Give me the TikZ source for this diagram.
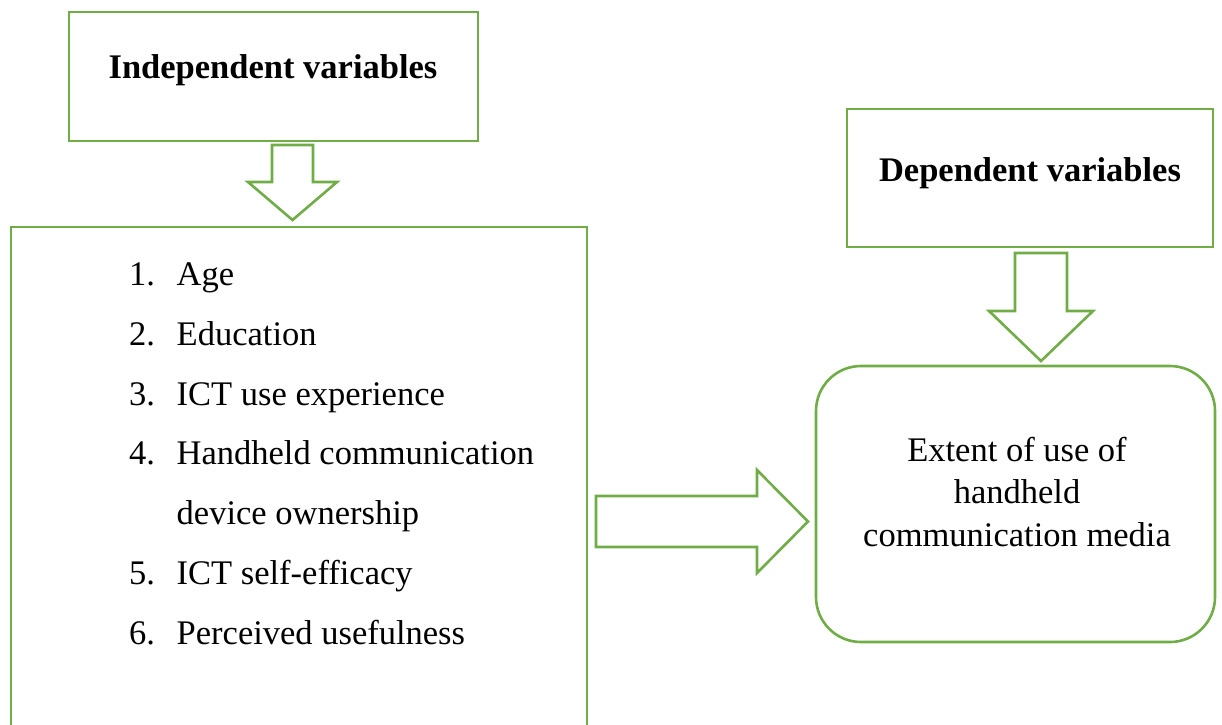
\documentclass[tikz,border=0pt]{standalone}
\usepackage{fontspec}
\setmainfont{Liberation Serif}
\definecolor{og}{HTML}{70AD47}
\begin{document}
\begin{tikzpicture}[x=1pt,y=-1pt,
  box/.style={draw=og,line width=2.6pt,inner sep=0pt,fill=white},
  blockarrow/.style={draw=og,line width=2.6pt,line join=miter,fill=white},
  txt/.style={inner sep=0pt,font=\fontsize{34.5}{40}\selectfont},
  item/.style={txt,anchor=base west},
  ctr/.style={txt,anchor=base}]
\useasboundingbox (0,0) rectangle (1222,724);
\clip (0,0) rectangle (1222,724);
% boxes
\node[box,minimum width=409pt,minimum height=129pt] (indep) at (273.5,76.5) {};
\node[box,minimum width=576pt,minimum height=533pt] (list) at (299,493.5) {};
\node[box,minimum width=366pt,minimum height=138pt] (dep) at (1030,178) {};
\node[box,rounded corners=45pt,minimum width=399pt,minimum height=276pt] (ext) at (1015.5,504) {};
% headings
\node[ctr,font=\fontsize{34.5}{40}\selectfont\bfseries] (indeplbl) at (273,78) {Independent variables};
\node[ctr,font=\fontsize{34.5}{40}\selectfont\bfseries] (deplbl) at (1030,181) {Dependent variables};
% list
\node[item] (n1) at (129,285) {1.};
\node[item] (t1) at (176.5,285) {Age};
\node[item] (n2) at (129,345) {2.};
\node[item] (t2) at (176.5,345) {Education};
\node[item] (n3) at (129,405) {3.};
\node[item] (t3) at (176.5,405) {ICT use experience};
\node[item] (n4) at (129,464.5) {4.};
\node[item] (t4) at (176.5,464.5) {Handheld communication};
\node[item] (t4b) at (176.5,524) {device ownership};
\node[item] (n5) at (129,584) {5.};
\node[item] (t5) at (176.5,584) {ICT self-efficacy};
\node[item] (n6) at (129,644) {6.};
\node[item] (t6) at (176.5,644) {Perceived usefulness};
% outcome text
\node[ctr] (e1) at (1017,461) {Extent of use of};
\node[ctr] (e2) at (1017,503.5) {handheld};
\node[ctr] (e3) at (1017,546) {communication media};
% block arrows
\draw[blockarrow] (272,145) -- (313,145) -- (313,182) -- (337,182) -- (292.5,220) -- (248,182) -- (272,182) -- cycle;
\draw[blockarrow] (1015,253) -- (1067,253) -- (1067,311) -- (1093,311) -- (1041,361) -- (989,311) -- (1015,311) -- cycle;
\draw[blockarrow] (596,496) -- (757,496) -- (757,470) -- (808,521.5) -- (757,573) -- (757,547) -- (596,547) -- cycle;
\end{tikzpicture}
\end{document}
